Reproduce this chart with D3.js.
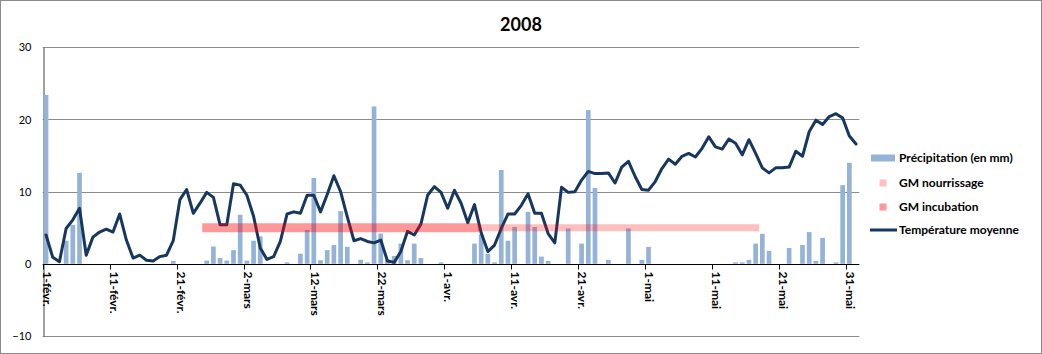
<!DOCTYPE html>
<html>
<head>
<meta charset="utf-8">
<script src="https://cdn.jsdelivr.net/npm/d3@7"></script>
<style>
  html, body { margin: 0; padding: 0; background: #fff; }
  svg { display: block; }
  text { font-family: Lato, "Open Sans", sans-serif; }
</style>
</head>
<body>
<svg id="chart" width="1042" height="354"></svg>
<script>
// ---- DATA ----
const title = "2008";
// one category per day, 1 Feb 2008 .. 1 Jun 2008
const categories = d3.timeDay.range(new Date(2008, 1, 1), new Date(2008, 5, 2));
const tickLabels = ["1-févr.", "11-févr.", "21-févr.", "2-mars", "12-mars", "22-mars", "1-avr.", "11-avr.", "21-avr.", "1-mai", "11-mai", "21-mai", "31-mai"];
const yTicks = [-10, 0, 10, 20, 30];

// Précipitation (en mm)
const precipitation = [
  23.4, 0, 0, 3.2, 5.4, 12.6, 0, 0, 0, 0,
  0, 0, 0, 0, 0, 0, 0, 0, 0, 0.4,
  0, 0, 0, 0, 0.45, 2.4, 0.8, 0.45, 1.9, 6.8,
  0.45, 3.2, 3.8, 0, 0, 0, 0.2, 0, 1.4, 4.7,
  11.9, 0.5, 1.9, 2.6, 7.3, 2.35, 0, 0.55, 0.2, 21.8,
  4.2, 0.6, 1.1, 2.8, 0.5, 2.8, 0.8, 0, 0, 0.2,
  0, 0, 0, 0, 2.8, 4.1, 1.4, 0.2, 13.0, 3.2,
  5.1, 0, 7.2, 5.1, 1.0, 0.4, 0, 0, 4.9, 0,
  2.8, 21.3, 10.5, 0, 0.55, 0, 0, 4.9, 0, 0.55,
  2.35, 0, 0, 0, 0, 0, 0, 0, 0, 0,
  0, 0, 0, 0.2, 0.2, 0.55, 2.8, 4.15, 1.8, 0,
  0, 2.2, 0, 2.6, 4.4, 0.4, 3.6, 0, 0.2, 10.9,
  14.0, 0
];

// Température moyenne
const temperature = [
  4.0, 0.9, 0.3, 4.9, 6.1, 7.7, 1.2, 3.7, 4.4, 4.8,
  4.4, 6.9, 3.3, 0.8, 1.2, 0.5, 0.4, 1.0, 1.2, 3.2,
  8.9, 10.3, 7.0, 8.4, 9.9, 9.2, 5.4, 5.4, 11.1, 10.9,
  9.5, 6.6, 2.2, 0.6, 1.0, 3.1, 6.9, 7.2, 7.0, 9.5,
  9.5, 7.2, 9.6, 12.2, 10.0, 6.5, 3.2, 3.5, 3.1, 2.9,
  3.3, 0.4, 0.2, 1.7, 4.5, 4.0, 5.5, 9.5, 10.7, 9.9,
  7.7, 10.2, 8.4, 5.7, 8.2, 4.3, 1.7, 2.6, 4.9, 6.9,
  6.9, 8.1, 9.7, 7.0, 7.0, 4.2, 2.9, 10.6, 9.9, 10.0,
  11.6, 12.8, 12.5, 12.5, 12.6, 11.2, 13.4, 14.2, 12.1, 10.3,
  10.2, 11.4, 13.2, 14.5, 13.8, 14.9, 15.3, 14.8, 16.0, 17.6,
  16.2, 15.9, 17.3, 16.7, 15.1, 17.2, 15.3, 13.3, 12.6, 13.3,
  13.3, 13.4, 15.6, 14.9, 18.3, 19.9, 19.3, 20.4, 20.8, 20.2,
  17.7, 16.6
];

const _ = null;
// GM incubation
const gmIncubation = [
  _, _, _, _, _, _, _, _, _, _,
  _, _, _, _, _, _, _, _, _, _,
  _, _, _, _, 5, 5, 5, 5, 5, 5,
  5, 5, 5, 5, 5, 5, 5, 5, 5, 5,
  5, 5, 5, 5, 5, 5, 5, 5, 5, 5,
  5, 5, 5, 5, 5, 5, 5, 5, 5, 5,
  5, 5, 5, 5, 5, _, _, _, _, _,
  _, _, _, _, _, _, _, _, _, _,
  _, _, _, _, _, _, _, _, _, _,
  _, _, _, _, _, _, _, _, _, _,
  _, _, _, _, _, _, _, _, _, _,
  _, _, _, _, _, _, _, _, _, _,
  _, _
];
// GM nourrissage
const gmNourrissage = [
  _, _, _, _, _, _, _, _, _, _,
  _, _, _, _, _, _, _, _, _, _,
  _, _, _, _, _, _, _, _, _, _,
  _, _, _, _, _, _, _, _, _, _,
  _, _, _, _, _, _, _, _, _, _,
  _, _, _, _, _, _, _, _, _, _,
  _, _, _, _, _, 5, 5, 5, 5, 5,
  5, 5, 5, 5, 5, 5, 5, 5, 5, 5,
  5, 5, 5, 5, 5, 5, 5, 5, 5, 5,
  5, 5, 5, 5, 5, 5, 5, 5, 5, 5,
  5, 5, 5, 5, 5, 5, 5, _, _, _,
  _, _, _, _, _, _, _, _, _, _,
  _, _
];

const legendLabels = ["Précipitation (en mm)", "GM nourrissage", "GM incubation", "Température moyenne"];

// ---- STYLE ----
const colBar = "#95B3D7";
const colLine = "#17375E";
const colIncub = "rgba(255,0,0,0.40)";
const colNourr = "rgba(255,0,0,0.25)";
const colGrid = "#8c8c8c";
const colAxis = "#404040";

// ---- CHART ----
const svg = d3.select("#chart");
svg.append("rect").attr("x", 0.5).attr("y", 0.5).attr("width", 1041).attr("height", 353)
  .attr("fill", "#fff").attr("stroke", "#8a8a8a");

const plot = { left: 42.7, right: 859.4, top: 47.3, bottom: 336 };
const idx = d3.range(categories.length);

const x = d3.scaleBand().domain(idx).range([plot.left, plot.right])
  .paddingInner(0.3).paddingOuter(0.15);
const step = x.step();
const cx = i => x(i) + x.bandwidth() / 2;
const y = d3.scaleLinear().domain([-10, 30]).range([plot.bottom, plot.top]);

// title
svg.append("text").attr("x", 521).attr("y", 31).attr("text-anchor", "middle")
  .attr("font-size", 18).attr("font-weight", "bold").attr("fill", "#000").text(title);

// gridlines
svg.append("g").selectAll("line").data(yTicks.filter(d => d !== 0)).join("line")
  .attr("x1", plot.left).attr("x2", plot.right)
  .attr("y1", d => Math.round(y(d)) + 0.5).attr("y2", d => Math.round(y(d)) + 0.5)
  .attr("stroke", colGrid).attr("stroke-width", 1);

// y axis
const yAxis = d3.axisLeft(y).tickValues(yTicks).tickSize(0).tickPadding(12)
  .tickFormat(d3.format("d"));
const gy = svg.append("g").attr("transform", `translate(${Math.round(plot.left) + 0.5},0)`).call(yAxis);
gy.select(".domain").attr("stroke", colAxis);
gy.selectAll("text").attr("font-size", 11).attr("fill", "#000")
  .attr("font-family", "Lato, sans-serif");

// precipitation bars
svg.append("g").selectAll("rect").data(precipitation).join("rect")
  .attr("x", (d, i) => x(i)).attr("width", x.bandwidth())
  .attr("y", d => y(Math.max(d, 0))).attr("height", d => Math.abs(y(0) - y(d)))
  .attr("fill", colBar);

// temperature line
const line = d3.line().x((d, i) => cx(i)).y(d => y(d));
svg.append("path").datum(temperature).attr("d", line)
  .attr("fill", "none").attr("stroke", colLine).attr("stroke-width", 3)
  .attr("stroke-linejoin", "round").attr("stroke-linecap", "round");

// GM bands (drawn on top, translucent)
const bandLine = d3.line().defined(d => d != null).x((d, i) => cx(i)).y(d => y(d));
svg.append("path").datum(gmNourrissage).attr("d", bandLine)
  .attr("fill", "none").attr("stroke", colNourr).attr("stroke-width", 7).attr("stroke-linecap", "square");
svg.append("path").datum(gmIncubation).attr("d", bandLine)
  .attr("fill", "none").attr("stroke", colIncub).attr("stroke-width", 9).attr("stroke-linecap", "square");

// x axis (at 0)
const y0 = Math.round(y(0)) + 0.5;
svg.append("line").attr("x1", plot.left).attr("x2", plot.right).attr("y1", y0).attr("y2", y0)
  .attr("stroke", "#000").attr("stroke-width", 1);
const tickIdx = tickLabels.map((t, k) => k * 10);
svg.append("g").selectAll("line").data(tickIdx).join("line")
  .attr("x1", i => Math.round(x(i) - step * 0.15) + 0.5).attr("x2", i => Math.round(x(i) - step * 0.15) + 0.5)
  .attr("y1", y0).attr("y2", y0 + 5).attr("stroke", "#000");
svg.append("g").selectAll("text").data(tickIdx).join("text")
  .attr("transform", i => `translate(${cx(i) + 1},${y0 + 7}) rotate(90)`)
  .attr("dy", "0.35em").attr("text-anchor", "start")
  .attr("font-size", 12).attr("font-weight", "bold").attr("fill", "#000")
  .text((i, k) => tickLabels[k]);

// legend
const lg = svg.append("g").attr("font-size", 12).attr("font-weight", "bold").attr("fill", "#000");
const lx = 899;
const ly = [158, 183, 207, 230];
lg.append("rect").attr("x", 871).attr("y", ly[0] - 3.5).attr("width", 24).attr("height", 7).attr("fill", colBar);
lg.append("rect").attr("x", 879.5).attr("y", ly[1] - 3.5).attr("width", 7).attr("height", 7).attr("fill", colNourr);
lg.append("rect").attr("x", 879.5).attr("y", ly[2] - 3.5).attr("width", 7).attr("height", 7).attr("fill", colIncub);
lg.append("line").attr("x1", 870).attr("x2", 897).attr("y1", ly[3]).attr("y2", ly[3])
  .attr("stroke", colLine).attr("stroke-width", 3);
lg.selectAll("text").data(legendLabels).join("text")
  .attr("x", lx).attr("y", (d, i) => ly[i]).attr("dy", "0.35em").text(d => d);
</script>
</body>
</html>
